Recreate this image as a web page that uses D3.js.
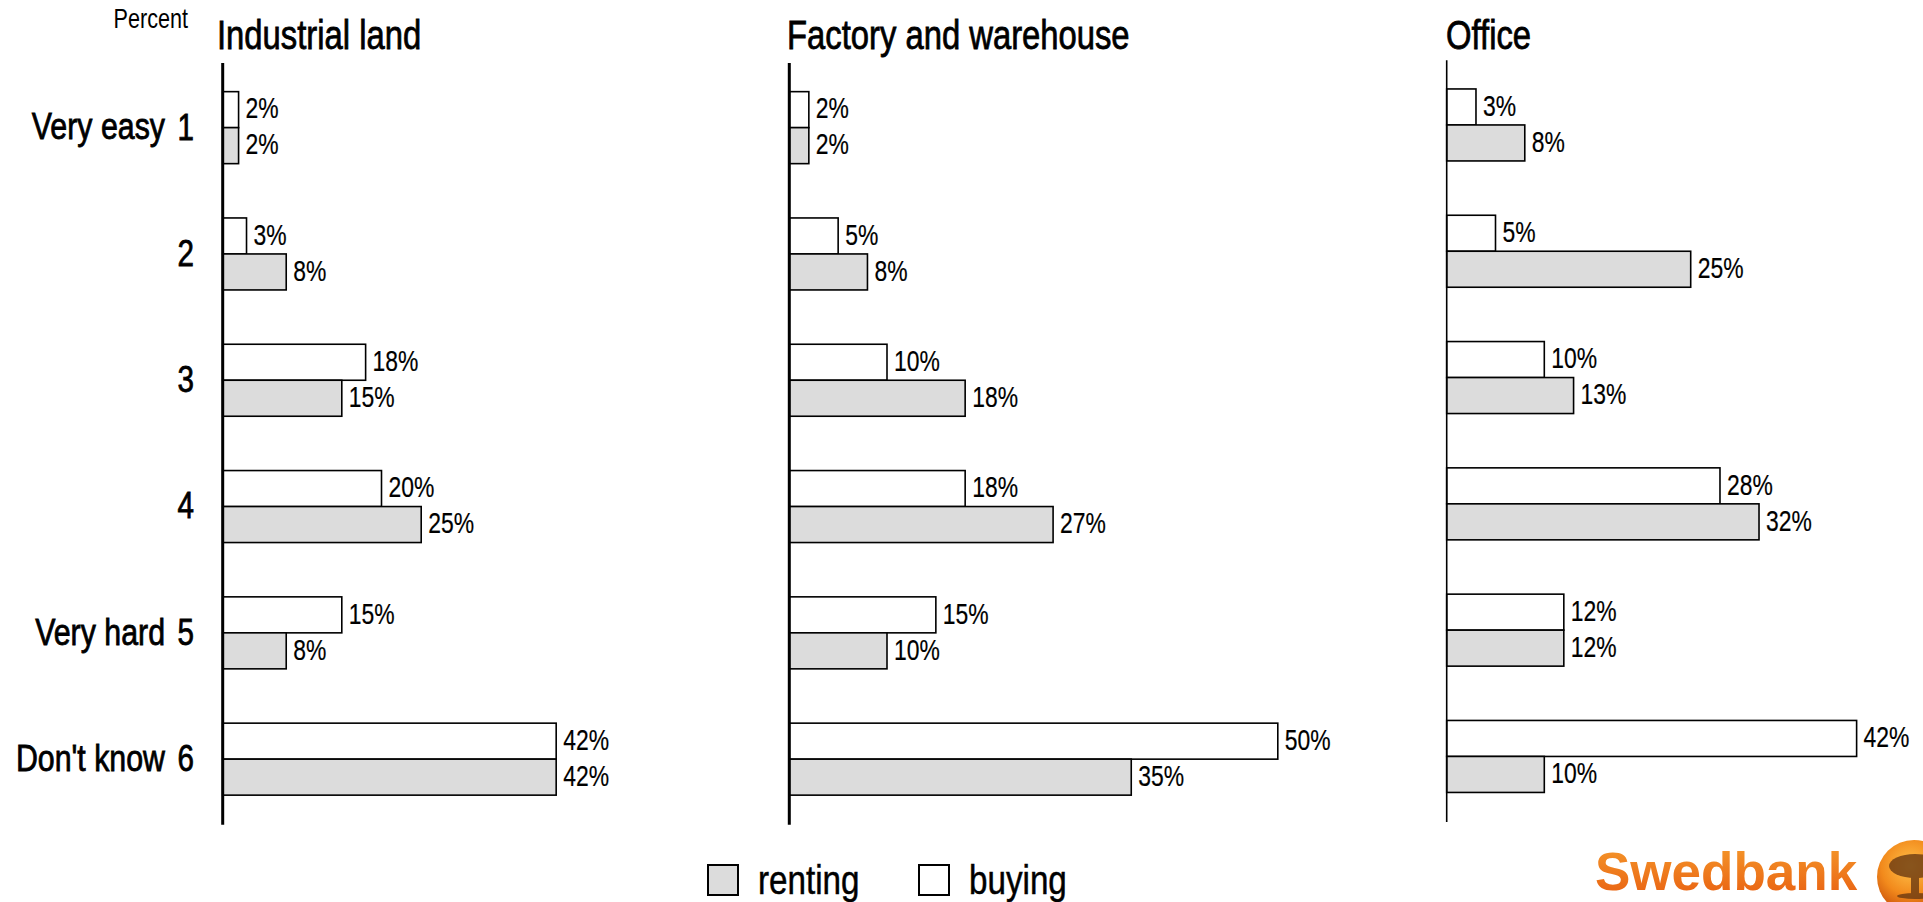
<!DOCTYPE html>
<html>
<head>
<meta charset="utf-8">
<script src="https://cdn.jsdelivr.net/npm/d3@7"></script>
<style>
  html, body { margin: 0; padding: 0; background: #fff; overflow: hidden; }
  svg { display: block; }
  text { font-family: "Liberation Sans", Arial, sans-serif; fill: #000; }
</style>
</head>
<body>
<svg id="chart" width="1923" height="902"></svg>
<script>
// ---- Data ----
const categories = ["1", "2", "3", "4", "5", "6"];
const categoryNames = ["Very easy", "", "", "", "Very hard", "Don't know"];
const panels = ["Industrial land", "Factory and warehouse", "Office"];
const buyingIndustrial = [2, 3, 18, 20, 15, 42];
const rentingIndustrial = [2, 8, 15, 25, 8, 42];
const buyingFactory = [2, 5, 10, 18, 15, 50];
const rentingFactory = [2, 8, 18, 27, 10, 35];
const buyingOffice = [3, 5, 10, 28, 12, 42];
const rentingOffice = [8, 25, 13, 32, 12, 10];
const seriesNames = ["buying", "renting"];
const legendItems = ["renting", "buying"];
const unitLabel = "Percent";

const buyingByPanel = [buyingIndustrial, buyingFactory, buyingOffice];
const rentingByPanel = [rentingIndustrial, rentingFactory, rentingOffice];

// ---- Layout ----
const svg = d3.select("#chart");
const fills = { buying: "#ffffff", renting: "#dcdcdc" };

function narrowText(parent, x, y, str, size, anchor, extra) {
  const sx = (extra && extra.sx) || 0.8;
  const t = parent.append("text")
    .attr("transform", `translate(${x},${y}) scale(${sx},1)`)
    .attr("font-size", size)
    .attr("text-anchor", anchor || "start")
    .text(str);
  if (extra && extra.dy) t.attr("dy", extra.dy);
  if (extra && extra.bold) t.attr("stroke", "#000").attr("stroke-width", extra.bold).attr("paint-order", "stroke");
  return t;
}

const panelLayout = [
  { x0: 222.7, pxPerUnit: 7.94, y0: 64.5, y1: 822.3, axisW: 3 },
  { x0: 789.3, pxPerUnit: 9.77, y0: 64.5, y1: 822.3, axisW: 3 },
  { x0: 1446.7, pxPerUnit: 9.76, y0: 61.8, y1: 819.6, axisW: 1.6 }
];
const titleX = [217, 787, 1446];

panels.forEach((name, p) => {
  const L = panelLayout[p];
  const x = d3.scaleLinear().domain([0, 50]).range([L.x0, L.x0 + 50 * L.pxPerUnit]);
  const y = d3.scaleBand().domain(categories).range([L.y0, L.y1]).paddingInner(0.43).paddingOuter(0.215);
  const ySub = d3.scaleBand().domain(seriesNames).range([0, y.bandwidth()]);

  const g = svg.append("g");

  const rows = categories.map((c, i) => ({
    cat: c,
    values: [
      { key: "buying", v: buyingByPanel[p][i] },
      { key: "renting", v: rentingByPanel[p][i] }
    ]
  }));

  rows.forEach(row => {
    const rg = g.append("g").attr("transform", `translate(0,${y(row.cat)})`);
    rg.selectAll("rect").data(row.values).join("rect")
      .attr("x", x(0))
      .attr("y", d => ySub(d.key))
      .attr("width", d => x(d.v) - x(0))
      .attr("height", ySub.bandwidth())
      .attr("fill", d => fills[d.key])
      .attr("stroke", "#000")
      .attr("stroke-width", 1.6);
    row.values.forEach(d => {
      narrowText(rg, x(d.v) + 7, ySub(d.key) + ySub.bandwidth() / 2, d.v + "%", 29, "start", { dy: "0.3em", sx: 0.79, bold: 0.2 });
    });
  });

  // axis line
  g.append("line")
    .attr("x1", x(0)).attr("x2", x(0))
    .attr("y1", L.y0 - 1.5).attr("y2", L.y1 + 2.5)
    .attr("stroke", "#000")
    .attr("stroke-width", L.axisW);

  // title
  narrowText(g, titleX[p], 49, name, 41, "start", { bold: 0.8 });

  // category labels on first panel
  if (p === 0) {
    categories.forEach((c, i) => {
      const cy = y(c) + y.bandwidth() / 2;
      narrowText(g, 194, cy, c, 37, "end", { dy: "0.32em", bold: 0.8 });
      if (categoryNames[i]) narrowText(g, 165, cy, categoryNames[i], 37, "end", { dy: "0.32em", bold: 0.8, sx: 0.82 });
    });
  }
});

// "Percent"
narrowText(svg, 188, 28, unitLabel, 27, "end");

// Legend
const legendX = [708, 919];
legendItems.forEach((k, i) => {
  svg.append("rect")
    .attr("x", legendX[i]).attr("y", 865)
    .attr("width", 30).attr("height", 30)
    .attr("fill", fills[k])
    .attr("stroke", "#000").attr("stroke-width", 2);
  narrowText(svg, legendX[i] + 50, 894, k, 41, "start", { bold: 0.5, sx: 0.81 });
});

// Swedbank logo
const defs = svg.append("defs");
const lin = defs.append("linearGradient").attr("id", "sbText").attr("x1", 0).attr("y1", 0).attr("x2", 0).attr("y2", 1);
lin.append("stop").attr("offset", "0%").attr("stop-color", "#f59a2c");
lin.append("stop").attr("offset", "100%").attr("stop-color", "#e85d10");
const rad = defs.append("radialGradient").attr("id", "sbBall").attr("cx", "45%").attr("cy", "35%").attr("r", "65%");
rad.append("stop").attr("offset", "0%").attr("stop-color", "#ffc24a");
rad.append("stop").attr("offset", "60%").attr("stop-color", "#f28a1c");
rad.append("stop").attr("offset", "100%").attr("stop-color", "#c9500a");

svg.append("text")
  .attr("x", 1595).attr("y", 890)
  .attr("font-weight", "bold")
  .attr("font-size", 53)
  .style("fill", "url(#sbText)")
  .text("Swedbank");

svg.append("circle")
  .attr("cx", 1914).attr("cy", 877).attr("r", 37)
  .attr("fill", "url(#sbBall)");
const tree = svg.append("g").attr("fill", "#6b3a12").attr("opacity", 0.8);
tree.append("ellipse").attr("cx", 1915).attr("cy", 866).attr("rx", 26).attr("ry", 12);
tree.append("rect").attr("x", 1911).attr("y", 872).attr("width", 8).attr("height", 24);
tree.append("ellipse").attr("cx", 1915).attr("cy", 896).attr("rx", 18).attr("ry", 3);
</script>
</body>
</html>
